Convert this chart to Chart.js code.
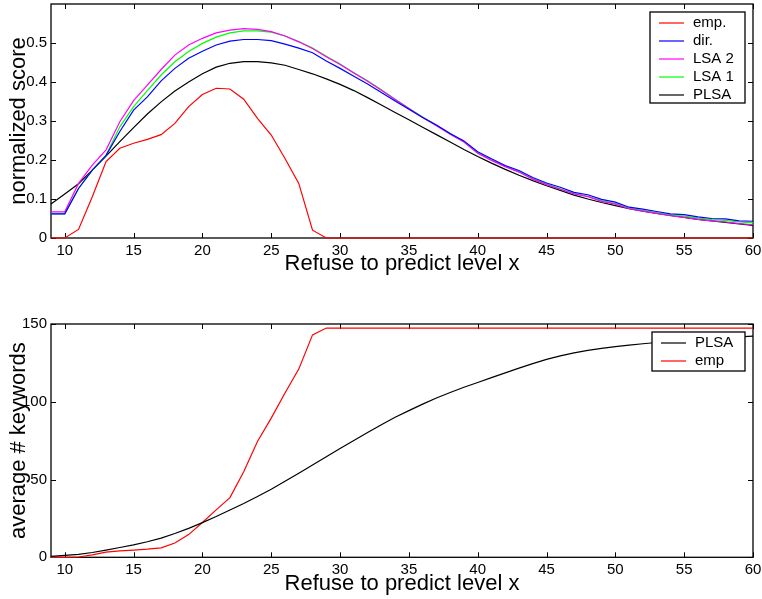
<!DOCTYPE html>
<html>
<head>
<meta charset="utf-8">
<script src="https://cdn.jsdelivr.net/npm/chart.js@4.4.1/dist/chart.umd.min.js"></script>
<style>
  html, body { margin: 0; padding: 0; background: #fff; }
  #wrap { position: relative; width: 762px; height: 599px; }
  canvas { position: absolute; left: 0; }
  #scoreChart { top: 0; }
  #keywordChart { top: 290px; }
</style>
</head>
<body>
<div id="wrap">
  <canvas id="scoreChart" width="762" height="290"></canvas>
  <canvas id="keywordChart" width="762" height="309"></canvas>
</div>
<script>
// refuse-to-predict levels (x axis)
const levels = [9, 10, 11, 12, 13, 14, 15, 16, 17, 18, 19, 20, 21, 22, 23, 24, 25, 26, 27, 28, 29, 30,
  31, 32, 33, 34, 35, 36, 37, 38, 39, 40, 41, 42, 43, 44, 45, 46, 47, 48, 49, 50,
  51, 52, 53, 54, 55, 56, 57, 58, 59, 60];
const xTicks = [10, 15, 20, 25, 30, 35, 40, 45, 50, 55, 60];
const scoreTicks = [0, 0.1, 0.2, 0.3, 0.4, 0.5];
const keywordTicks = [0, 50, 100, 150];

// normalized score (top panel)
const scoreEmp = [0, 0, 0.022, 0.106, 0.196, 0.23, 0.243, 0.253, 0.265, 0.294, 0.337, 0.368, 0.384, 0.382,
  0.356, 0.307, 0.264, 0.204, 0.14, 0.02, 0, 0, 0, 0, 0, 0, 0, 0, 0, 0, 0, 0, 0, 0, 0, 0, 0, 0, 0, 0,
  0, 0, 0, 0, 0, 0, 0, 0, 0, 0, 0, 0];
const scoreDir = [0.062, 0.062, 0.127, 0.174, 0.212, 0.273, 0.328, 0.362, 0.403, 0.435, 0.461, 0.479, 0.495,
  0.505, 0.509, 0.509, 0.506, 0.497, 0.487, 0.475, 0.454, 0.435, 0.415, 0.395, 0.373, 0.351, 0.330, 0.309,
  0.290, 0.268, 0.249, 0.221, 0.203, 0.186, 0.173, 0.155, 0.141, 0.130, 0.117, 0.111, 0.099, 0.092, 0.079,
  0.074, 0.068, 0.062, 0.060, 0.054, 0.050, 0.049, 0.044, 0.043];
const scoreLsa2 = [0.067, 0.067, 0.14, 0.187, 0.226, 0.298, 0.352, 0.392, 0.432, 0.469, 0.495, 0.512, 0.526,
  0.533, 0.537, 0.535, 0.529, 0.518, 0.503, 0.486, 0.465, 0.445, 0.423, 0.402, 0.379, 0.355, 0.332, 0.309,
  0.288, 0.266, 0.246, 0.217, 0.199, 0.183, 0.169, 0.151, 0.137, 0.125, 0.113, 0.106, 0.094, 0.087, 0.075,
  0.069, 0.063, 0.057, 0.053, 0.048, 0.044, 0.041, 0.037, 0.034];
const scoreLsa1 = [0.062, 0.062, 0.127, 0.174, 0.212, 0.285, 0.337, 0.378, 0.418, 0.452, 0.478, 0.499, 0.515,
  0.526, 0.531, 0.531, 0.528, 0.518, 0.504, 0.487, 0.466, 0.446, 0.424, 0.403, 0.380, 0.356, 0.333, 0.310,
  0.289, 0.267, 0.247, 0.218, 0.200, 0.184, 0.170, 0.152, 0.138, 0.126, 0.114, 0.107, 0.096, 0.088, 0.077,
  0.071, 0.065, 0.059, 0.056, 0.051, 0.047, 0.045, 0.041, 0.039];
const scorePlsa = [0.087, 0.113, 0.139, 0.174, 0.21, 0.247, 0.283, 0.318, 0.349, 0.377, 0.400, 0.421, 0.438,
  0.448, 0.452, 0.452, 0.449, 0.443, 0.432, 0.421, 0.408, 0.394, 0.378, 0.360, 0.341, 0.322, 0.303, 0.284,
  0.265, 0.246, 0.227, 0.209, 0.192, 0.176, 0.161, 0.147, 0.134, 0.122, 0.110, 0.100, 0.091, 0.083, 0.075,
  0.069, 0.063, 0.058, 0.053, 0.048, 0.044, 0.040, 0.036, 0.032];

// average # keywords (bottom panel)
const kwPlsa = [0.6, 1.2, 1.9, 3.1, 4.6, 6.3, 8.0, 10.0, 12.3, 15.3, 18.6, 22.3, 26.2, 30.4, 34.6, 39.1,
  43.8, 48.9, 54.1, 59.3, 64.7, 69.9, 75.1, 80.2, 85.2, 90.0, 94.3, 98.5, 102.4, 106.0, 109.3, 112.4,
  115.5, 118.6, 121.6, 124.5, 127.3, 129.5, 131.4, 133.0, 134.3, 135.4, 136.4, 137.3, 138.1, 138.8,
  139.5, 140.1, 140.7, 141.2, 141.7, 142.2];
const kwEmp = [0, 0, 0.2, 1.6, 3.3, 4.1, 4.6, 5.2, 6.1, 9.2, 14.6, 22.4, 30.5, 38.4, 55, 74.5, 89.5, 105.6,
  121, 143, 147.4, 147.4, 147.4, 147.4, 147.4, 147.4, 147.4, 147.4, 147.4, 147.4, 147.4, 147.4, 147.4,
  147.4, 147.4, 147.4, 147.4, 147.4, 147.4, 147.4, 147.4, 147.4, 147.4, 147.4, 147.4, 147.4, 147.4,
  147.4, 147.4, 147.4, 147.4, 147.4];

const FONT = "'Liberation Sans', Arial, Helvetica, sans-serif";

function pts(values) {
  return levels.map((x, i) => ({ x: x, y: values[i] }));
}

function line(label, values, color) {
  return { label: label, data: pts(values), borderColor: color, backgroundColor: color,
    borderWidth: 1.2, pointRadius: 0, tension: 0, fill: false, clip: false };
}

// box frame with inward tick marks on all four sides
const frameTicks = {
  id: "frameTicks",
  beforeDatasetsDraw(chart) {
    const { ctx, chartArea: a, scales } = chart;
    const len = 5;
    ctx.save();
    ctx.strokeStyle = "#000";
    ctx.lineWidth = 1;
    ctx.beginPath();
    scales.x.ticks.forEach(t => {
      const px = Math.round(scales.x.getPixelForValue(t.value)) + 0.5;
      ctx.moveTo(px, a.top); ctx.lineTo(px, a.top + len);
      ctx.moveTo(px, a.bottom); ctx.lineTo(px, a.bottom - len);
    });
    scales.y.ticks.forEach(t => {
      const py = Math.round(scales.y.getPixelForValue(t.value)) + 0.5;
      ctx.moveTo(a.left, py); ctx.lineTo(a.left + len, py);
      ctx.moveTo(a.right, py); ctx.lineTo(a.right - len, py);
    });
    ctx.stroke();
    ctx.lineWidth = 1.3;
    ctx.strokeRect(a.left, a.top, a.right - a.left, a.bottom - a.top);
    ctx.restore();
  }
};

// legend box inside the upper right corner
const boxLegend = {
  id: "boxLegend",
  afterDraw(chart, args, opts) {
    const { ctx, chartArea: a } = chart;
    const sets = chart.data.datasets;
    const x0 = a.right - opts.inset - opts.width;
    const y0 = a.top + opts.inset;
    ctx.save();
    ctx.fillStyle = "#fff";
    ctx.fillRect(x0, y0, opts.width, opts.height);
    ctx.strokeStyle = "#000";
    ctx.lineWidth = 1.3;
    ctx.strokeRect(x0, y0, opts.width, opts.height);
    ctx.font = "15px " + FONT;
    ctx.textBaseline = "middle";
    sets.forEach((ds, i) => {
      const y = y0 + 11 + i * 18;
      ctx.strokeStyle = ds.borderColor;
      ctx.lineWidth = 1.2;
      ctx.beginPath();
      ctx.moveTo(x0 + 9, y);
      ctx.lineTo(x0 + 34, y);
      ctx.stroke();
      ctx.fillStyle = "#000";
      ctx.fillText(ds.label, x0 + 43, y);
    });
    ctx.restore();
  }
};

function makeOptions(o) {
  return {
    responsive: false,
    animation: false,
    layout: { padding: { top: o.top, right: 9, left: 0, bottom: 0 } },
    plugins: {
      legend: { display: false },
      tooltip: { enabled: false },
      boxLegend: { inset: 8, width: o.legendWidth, height: o.legendHeight }
    },
    scales: {
      x: {
        type: "linear",
        min: 9,
        max: 60,
        grid: { display: false, drawTicks: false },
        border: { display: false },
        afterBuildTicks: s => { s.ticks = xTicks.map(v => ({ value: v })); },
        afterFit: s => { s.height = o.xHeight; s.paddingLeft = 0; s.paddingRight = 0; },
        ticks: { color: "#000", padding: 4, maxRotation: 0, autoSkip: false,
          font: { family: FONT, size: 15 }, callback: v => String(v) },
        title: { display: true, text: "Refuse to predict level x", color: "#000",
          font: { family: FONT, size: 22 }, padding: { top: 0, bottom: o.xTitlePad } }
      },
      y: {
        min: 0,
        max: o.yMax,
        grid: { display: false, drawTicks: false },
        border: { display: false },
        afterBuildTicks: s => { s.ticks = o.yTicks.map(v => ({ value: v })); },
        afterFit: s => { s.width = 51; s.paddingTop = 0; s.paddingBottom = 0; },
        ticks: { color: "#000", padding: 4, autoSkip: false,
          font: { family: FONT, size: 15 }, callback: v => String(v) },
        title: { display: true, text: o.yTitle, color: "#000",
          font: { family: FONT, size: 22 }, padding: { top: 6, bottom: 0 } }
      }
    }
  };
}

new Chart(document.getElementById("scoreChart"), {
  type: "line",
  data: {
    datasets: [
      line("emp.", scoreEmp, "#ff0000"),
      line("dir.", scoreDir, "#0000ff"),
      line("LSA 2", scoreLsa2, "#ff00ff"),
      line("LSA 1", scoreLsa1, "#00ff00"),
      line("PLSA", scorePlsa, "#000000")
    ]
  },
  options: makeOptions({ top: 4, yMax: 0.6, yTicks: scoreTicks, yTitle: "normalized score",
    xHeight: 52, xTitlePad: 12.5, legendWidth: 95, legendHeight: 91 }),
  plugins: [frameTicks, boxLegend]
});

new Chart(document.getElementById("keywordChart"), {
  type: "line",
  data: {
    datasets: [
      line("PLSA", kwPlsa, "#000000"),
      line("emp", kwEmp, "#ff0000")
    ]
  },
  options: makeOptions({ top: 34, yMax: 150, yTicks: keywordTicks, yTitle: "average # keywords",
    xHeight: 41.7, xTitlePad: 1.5, legendWidth: 93, legendHeight: 39 }),
  plugins: [frameTicks, boxLegend]
});
</script>
</body>
</html>
